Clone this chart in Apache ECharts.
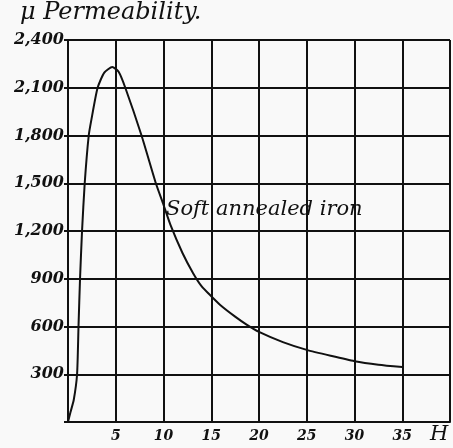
<!DOCTYPE html>
<html>
<head>
<meta charset="utf-8">
<script src="https://cdn.jsdelivr.net/npm/echarts@6/dist/echarts.min.js"></script>
<style>
html, body { margin: 0; padding: 0; background: #f9f9f9; }
#chart-container { width: 453px; height: 448px; }
</style>
</head>
<body>
<div id="chart-container"></div>
<script>
// H (field strength) and mu (permeability)
var hValues = [0, 0.25, 0.6, 0.95, 1.1, 1.26, 1.47, 1.75, 2.17, 2.45, 3.1, 3.8, 4.64, 5.3, 6.0, 7.7, 9.2, 10, 10.75, 12, 13.1, 14, 15, 16, 17.5, 18.7, 20, 22.5, 25, 27.5, 30, 32.5, 35];
var muValues = [0, 60, 138, 300, 600, 900, 1200, 1500, 1800, 1900, 2100, 2195, 2231, 2200, 2100, 1800, 1500, 1365, 1235, 1060, 935, 852, 790, 732, 662, 612, 566, 502, 453, 416, 382, 360, 345];
var yTicks = [300, 600, 900, 1200, 1500, 1800, 2100, 2400];
var xTicks = [5, 10, 15, 20, 25, 30, 35];

var curve = hValues.map(function (h, i) { return [h, muValues[i]]; });

var dom = document.getElementById('chart-container');
var myChart = echarts.init(dom, null, { renderer: 'canvas' });

var labelFont = {
    color: '#111',
    fontFamily: 'DejaVu Serif',
    fontStyle: 'italic',
    fontWeight: 'bold',
    fontSize: 16
};

var option = {
    backgroundColor: '#f9f9f9',
    animation: false,
    grid: { left: 68, right: 3, top: 40, bottom: 26 },
    xAxis: {
        type: 'value',
        min: 0,
        max: 40,
        interval: 5,
        axisLine: { show: true, lineStyle: { color: '#111', width: 2 } },
        axisTick: { show: false },
        splitLine: { show: true, lineStyle: { color: '#111', width: 2 } },
        axisLabel: Object.assign({}, labelFont, {
            margin: 7,
            fontSize: 14,
            formatter: function (v) { return xTicks.indexOf(v) >= 0 ? String(v) : ''; }
        })
    },
    yAxis: {
        type: 'value',
        min: 0,
        max: 2400,
        interval: 300,
        axisLine: { show: true, lineStyle: { color: '#111', width: 2 } },
        axisTick: { show: true, length: 4, lineStyle: { color: '#111', width: 2 } },
        splitLine: { show: true, lineStyle: { color: '#111', width: 2 } },
        axisLabel: Object.assign({}, labelFont, {
            margin: 4,
            formatter: function (v) {
                if (yTicks.indexOf(v) < 0) return '';
                return v >= 1000 ? Math.floor(v / 1000) + ',' + String(v % 1000).padStart(3, '0') : String(v);
            }
        })
    },
    graphic: [
        {
            type: 'text', left: 20, top: 1,
            style: { text: 'μ Permeability.', font: 'italic 24px "DejaVu Serif"', fill: '#111' }
        },
        {
            type: 'text', left: 430, top: 424,
            style: { text: 'H', font: 'italic 21px "DejaVu Serif"', fill: '#111' }
        },
        {
            type: 'text', left: 163, top: 197,
            style: {
                text: 'Soft annealed iron', font: 'italic 21px "DejaVu Serif"', fill: '#111',
                backgroundColor: '#f9f9f9', padding: [2, 3]
            }
        }
    ],
    series: [
        {
            type: 'line',
            data: curve,
            smooth: 0.2,
            showSymbol: false,
            lineStyle: { color: '#111', width: 2 },
            z: 3
        }
    ]
};

myChart.setOption(option);
window.addEventListener('resize', myChart.resize);
</script>
</body>
</html>
